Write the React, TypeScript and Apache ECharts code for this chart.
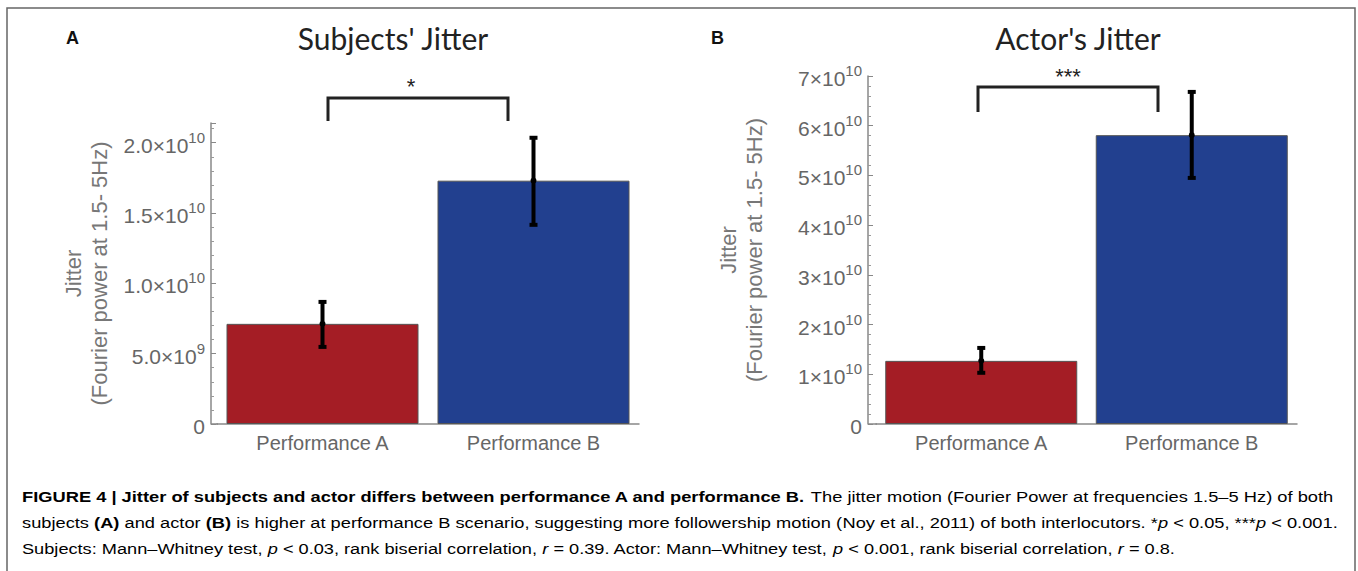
import React, { useEffect, useRef } from "react";
import * as echarts from "echarts";

const categories = ["Performance A", "Performance B"];
const subjectsMean = [7.12e9, 1.73e10];
const subjectsLow = [5.48e9, 1.416e10];
const subjectsHigh = [8.68e9, 2.035e10];
const actorMean = [1.27e10, 5.81e10];
const actorLow = [1.03e10, 4.95e10];
const actorHigh = [1.53e10, 6.68e10];
const subjectsTicks = [0, 5e9, 1e10, 1.5e10, 2e10];
const actorTicks = [0, 1e10, 2e10, 3e10, 4e10, 5e10, 6e10, 7e10];
const barColors = ["#a41d25", "#22408f"];

const TICK_FONT = "'Liberation Sans', Arial, sans-serif";

function subjLabel(v: number): string {
  if (!subjectsTicks.some((t) => Math.abs(t - v) < 1)) return "";
  if (v === 0) return "{b|0}";
  if (v < 1e10) return `{b|${(v / 1e9).toFixed(1)}×10}{s|9}`;
  return `{b|${(v / 1e10).toFixed(1)}×10}{s|10}`;
}
function actorLabel(v: number): string {
  if (!actorTicks.some((t) => Math.abs(t - v) < 1)) return "";
  if (v === 0) return "{b|0}";
  return `{b|${Math.round(v / 1e10)}×10}{s|10}`;
}

const richTick = {
  b: { fontSize: 21, color: "#666", fontFamily: TICK_FONT, lineHeight: 26, verticalAlign: "bottom" as const },
  s: { fontSize: 15, color: "#666", fontFamily: TICK_FONT, lineHeight: 14, verticalAlign: "top" as const },
};

function errorRender(params: any, api: any) {
  const i = api.value(0);
  const top = api.coord([i, api.value(2)]);
  const bot = api.coord([i, api.value(1)]);
  const mid = api.coord([i, api.value(3)]);
  const x = top[0];
  const st = { stroke: "#000", lineWidth: 4, lineCap: "butt" };
  return {
    type: "group",
    children: [
      { type: "line", shape: { x1: x, y1: top[1], x2: x, y2: bot[1] }, style: st },
      { type: "line", shape: { x1: x - 4, y1: top[1], x2: x + 4, y2: top[1] }, style: st },
      { type: "line", shape: { x1: x - 4, y1: bot[1], x2: x + 4, y2: bot[1] }, style: st },
      { type: "circle", shape: { cx: x, cy: mid[1], r: 3 }, style: { fill: "#000" } },
    ],
  };
}

function yAxisCommon(max: number, interval: number, fmt: (v: number) => string, offset: number, gap: number) {
  return {
    type: "value" as const,
    min: 0,
    max,
    interval,
    offset,
    name: "Jitter\n(Fourier power at 1.5- 5Hz)",
    nameLocation: "middle" as const,
    nameRotate: 90,
    nameGap: gap,
    nameTextStyle: { color: "#777", fontSize: 22, fontFamily: TICK_FONT, lineHeight: 26 },
    axisLine: { show: true, lineStyle: { color: "#888", width: 1.5 } },
    axisTick: { show: true, inside: true, length: 5, lineStyle: { color: "#888" } },
    minorTick: { show: true, splitNumber: 5, length: 3, lineStyle: { color: "#999" } },
    splitLine: { show: false },
    axisLabel: { formatter: fmt, margin: 6, rich: richTick },
  };
}

function xAxisCommon(gridIndex: number) {
  return {
    type: "category" as const,
    gridIndex,
    data: categories,
    boundaryGap: true,
    axisLine: { show: true, lineStyle: { color: "#888", width: 1.5 } },
    axisTick: { show: false },
    axisLabel: { color: "#666", fontSize: 20, fontFamily: TICK_FONT, margin: 9 },
  };
}

const capR = { fontSize: 15, color: "#333", fontFamily: TICK_FONT };
const capRich = {
  r: capR,
  b: { ...capR, fontWeight: "bold" as const, color: "#222" },
  i: { ...capR, fontStyle: "italic" as const },
  g: { ...capR, color: "#999" },
};

export default function App() {
  const ref = useRef<HTMLDivElement>(null);
  useEffect(() => {
    if (!ref.current) return;
    const chart = echarts.init(ref.current, undefined, { renderer: "svg" });
    const bracket = (x1: number, x2: number, yTop: number, yBot: number) => ({
      type: "polyline",
      shape: { points: [[x1, yBot], [x1, yTop], [x2, yTop], [x2, yBot]] },
      style: { stroke: "#222", lineWidth: 3, fill: "none" },
    });
    chart.setOption({
      animation: false,
      backgroundColor: "#fff",
      grid: [
        { left: 217, right: 719, top: 123, bottom: 147 },
        { left: 876, right: 61, top: 76, bottom: 147 },
      ],
      xAxis: [xAxisCommon(0), xAxisCommon(1)],
      yAxis: [
        { ...yAxisCommon(2.14e10, 5e9, subjLabel, 6, 99), gridIndex: 0 },
        { ...yAxisCommon(7e10, 1e10, actorLabel, 8, 101), gridIndex: 1 },
      ],
      series: [
        {
          type: "bar",
          xAxisIndex: 0,
          yAxisIndex: 0,
          barWidth: 192,
          data: subjectsMean.map((v, i) => ({ value: v, itemStyle: { color: barColors[i] } })),
          itemStyle: { borderColor: "#555", borderWidth: 1 },
        },
        {
          type: "bar",
          xAxisIndex: 1,
          yAxisIndex: 1,
          barWidth: 192,
          data: actorMean.map((v, i) => ({ value: v, itemStyle: { color: barColors[i] } })),
          itemStyle: { borderColor: "#555", borderWidth: 1 },
        },
        {
          type: "custom",
          xAxisIndex: 0,
          yAxisIndex: 0,
          renderItem: errorRender,
          z: 10,
          data: categories.map((_, i) => [i, subjectsLow[i], subjectsHigh[i], subjectsMean[i]]),
        },
        {
          type: "custom",
          xAxisIndex: 1,
          yAxisIndex: 1,
          renderItem: errorRender,
          z: 10,
          data: categories.map((_, i) => [i, actorLow[i], actorHigh[i], actorMean[i]]),
        },
      ],
      graphic: [
        {
          type: "polyline",
          shape: { points: [[7, 571], [7, 8], [1355, 8], [1355, 571]] },
          style: { stroke: "#666", lineWidth: 1.5, fill: "none" },
        },
        { type: "line", shape: { x1: 211, y1: 424, x2: 218, y2: 424 }, style: { stroke: "#888", lineWidth: 1.5 } },
        { type: "line", shape: { x1: 868, y1: 424, x2: 877, y2: 424 }, style: { stroke: "#888", lineWidth: 1.5 } },
        { type: "text", x: 66, y: 38, style: { text: "A", font: `bold 18px ${TICK_FONT}`, fill: "#111", verticalAlign: "middle" } },
        { type: "text", x: 711, y: 38, style: { text: "B", font: `bold 18px ${TICK_FONT}`, fill: "#111", verticalAlign: "middle" } },
        { type: "text", x: 393, y: 38, style: { text: "Subjects' Jitter", font: "30px Lato, sans-serif", fill: "#222", align: "center", verticalAlign: "middle" } },
        { type: "text", x: 1078, y: 38, style: { text: "Actor's Jitter", font: "30px Lato, sans-serif", fill: "#222", align: "center", verticalAlign: "middle" } },
        bracket(328, 508, 98, 121),
        bracket(978, 1158, 87, 112),
        { type: "text", x: 411, y: 86, style: { text: "*", font: `22px ${TICK_FONT}`, fill: "#222", align: "center", verticalAlign: "middle" } },
        { type: "text", x: 1068, y: 76, style: { text: "***", font: `22px ${TICK_FONT}`, fill: "#222", align: "center", verticalAlign: "middle" } },
        {
          type: "text",
          x: 22,
          y: 497,
          scaleX: 1.22,
          style: {
            text: "{b|FIGURE 4 | Jitter of subjects and actor differs between performance A and performance B.}{r| The jitter motion (Fourier Power at frequencies 1.5–5 Hz) of both}",
            rich: capRich,
            verticalAlign: "middle",
          },
        },
        {
          type: "text",
          x: 22,
          y: 523,
          scaleX: 1.218,
          style: {
            text: "{r|subjects }{b|(A)}{r| and actor }{b|(B)}{r| is higher at performance B scenario, suggesting more followership motion (}{g|Noy et al., 2011}{r|) of both interlocutors. *}{i|p}{r| < 0.05, ***}{i|p}{r| < 0.001.}",
            rich: capRich,
            verticalAlign: "middle",
          },
        },
        {
          type: "text",
          x: 22,
          y: 549,
          scaleX: 1.213,
          style: {
            text: "{r|Subjects: Mann–Whitney test, }{i|p}{r| < 0.03, rank biserial correlation, }{i|r}{r| = 0.39. Actor: Mann–Whitney test, }{i|p}{r| < 0.001, rank biserial correlation, }{i|r}{r| = 0.8.}",
            rich: capRich,
            verticalAlign: "middle",
          },
        },
      ],
    });
    return () => chart.dispose();
  }, []);
  return (
    <div
      ref={ref}
      style={{ position: "fixed", left: 0, top: 0, width: 1358, height: 571, background: "#fff" }}
    />
  );
}
